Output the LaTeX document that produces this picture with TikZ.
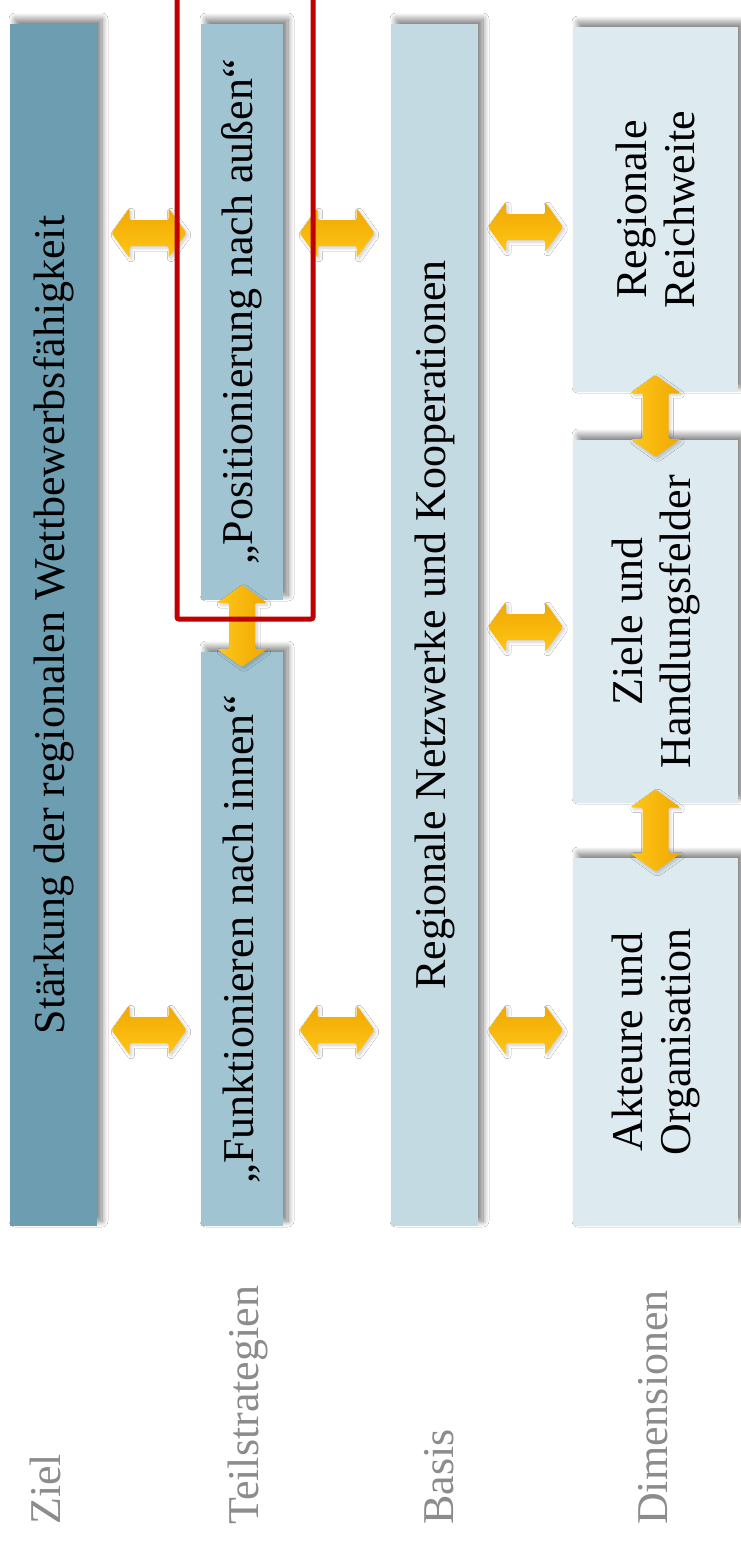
\documentclass[tikz,border=0pt]{standalone}
\usepackage{fontspec}
\setmainfont{Liberation Serif}
\usetikzlibrary{shadows.blur,calc}
\definecolor{zielc}{RGB}{108,157,176}
\definecolor{teilc}{RGB}{160,196,210}
\definecolor{basisc}{RGB}{196,218,227}
\definecolor{dimc}{RGB}{221,234,240}
\definecolor{lblgray}{RGB}{140,140,140}
\definecolor{arrA}{RGB}{240,168,0}
\definecolor{arrB}{RGB}{255,198,24}
\definecolor{hired}{RGB}{192,0,0}
% horizontal double arrow, length #2, centred at #1
\newcommand\hArr[2]{%
  \begin{scope}[shift={#1}]
    \path[arrowfill, top color=arrA, bottom color=arrB]
      (-#2/2,0) -- (-#2/2+18,-25) -- (-#2/2+18,-13) -- (#2/2-18,-13) -- (#2/2-18,-25) -- (#2/2,0)
      -- (#2/2-18,25) -- (#2/2-18,13) -- (-#2/2+18,13) -- (-#2/2+18,25) -- cycle;
  \end{scope}}
% vertical double arrow
\newcommand\vArr[2]{%
  \begin{scope}[shift={#1}]
    \path[arrowfill, left color=arrB, right color=arrA]
      (0,-#2/2) -- (-25,-#2/2+18) -- (-13,-#2/2+18) -- (-13,#2/2-18) -- (-25,#2/2-18) -- (0,#2/2)
      -- (25,#2/2-18) -- (13,#2/2-18) -- (13,-#2/2+18) -- (25,-#2/2+18) -- cycle;
  \end{scope}}
\begin{document}
\begin{tikzpicture}[x=1pt,y=-1pt,
  box/.style={draw=none, inner sep=0pt, outer sep=0pt,
    blur shadow={shadow xshift=5pt, shadow yshift=5pt, shadow blur radius=6pt, shadow blur steps=12, shadow opacity=50}},
  txt/.style={rotate=90, font=\fontsize{44}{48}\selectfont, align=center, inner sep=0pt},
  lbl/.style={rotate=90, anchor=base west, font=\fontsize{44}{48}\selectfont, text=lblgray, inner sep=0pt},
  arrowfill/.style={rounded corners=1.5pt,
    blur shadow={shadow xshift=2pt, shadow yshift=-2pt, shadow blur radius=3pt, shadow blur steps=6, shadow opacity=20}},
]
\useasboundingbox (0,0) rectangle (741,1542);
\fill[white] (0,0) rectangle (741,1542);

% boxes
\node[box, fill=zielc, minimum width=87pt, minimum height=1202pt] (ziel) at (53.5,625) {};
\node[box, fill=teilc, minimum width=82pt, minimum height=576pt] (posi) at (242,312) {};
\node[box, fill=teilc, minimum width=82pt, minimum height=574pt] (funk) at (242,939) {};
\node[box, fill=basisc, minimum width=87pt, minimum height=1202pt] (basis) at (434.5,625) {};
\node[box, fill=dimc, minimum width=165pt, minimum height=365pt] (reich) at (655.5,209.5) {};
\node[box, fill=dimc, minimum width=165pt, minimum height=363pt] (ziele) at (655.5,621.5) {};
\node[box, fill=dimc, minimum width=165pt, minimum height=368pt] (akt) at (655.5,1042) {};

% texts
\node[txt] (tziel) at (ziel) {Stärkung der regionalen Wettbewerbsfähigkeit};
\node[txt] (tposi) at (posi) {„Positionierung nach außen“};
\node[txt] (tfunk) at (funk) {„Funktionieren nach innen“};
\node[txt] (tbasis) at (basis) {Regionale Netzwerke und Kooperationen};
\node[txt] (treich) at (reich) {Regionale\\Reichweite};
\node[txt] (tziele) at (ziele) {Ziele und\\Handlungsfelder};
\node[txt] (takt) at (akt) {Akteure und\\Organisation};

% horizontal arrows between named boxes
\hArr{($(ziel.east |- 0,233)!.5!(posi.west |- 0,233)$)}{75}
\hArr{($(ziel.east |- 0,1030)!.5!(funk.west |- 0,1030)$)}{75}
\hArr{($(posi.east |- 0,233)!.5!(basis.west |- 0,233)$)}{75}
\hArr{($(funk.east |- 0,1030)!.5!(basis.west |- 0,1030)$)}{75}
\hArr{($(basis.east |- 0,227)!.5!(reich.west |- 0,227)$)}{75}
\hArr{($(basis.east |- 0,627)!.5!(ziele.west |- 0,627)$)}{75}
\hArr{($(basis.east |- 0,1030)!.5!(akt.west |- 0,1030)$)}{75}

% vertical arrows
\vArr{($(posi.south)!.5!(funk.north)$)}{82}
\vArr{($(reich.south)!.5!(ziele.north)$)}{82}
\vArr{($(ziele.south)!.5!(akt.north)$)}{82}

% red highlight
\draw[hired, line width=5pt, rounded corners=2pt] (177,-6) rectangle (313,619);

% row labels
\node[lbl] (lziel) at (60,1525) {Ziel};
\node[lbl] (lteil) at (258,1525) {Teilstrategien};
\node[lbl] (lbasis) at (453,1525) {Basis};
\node[lbl] (ldim) at (667,1525) {Dimensionen};
\end{tikzpicture}
\end{document}
